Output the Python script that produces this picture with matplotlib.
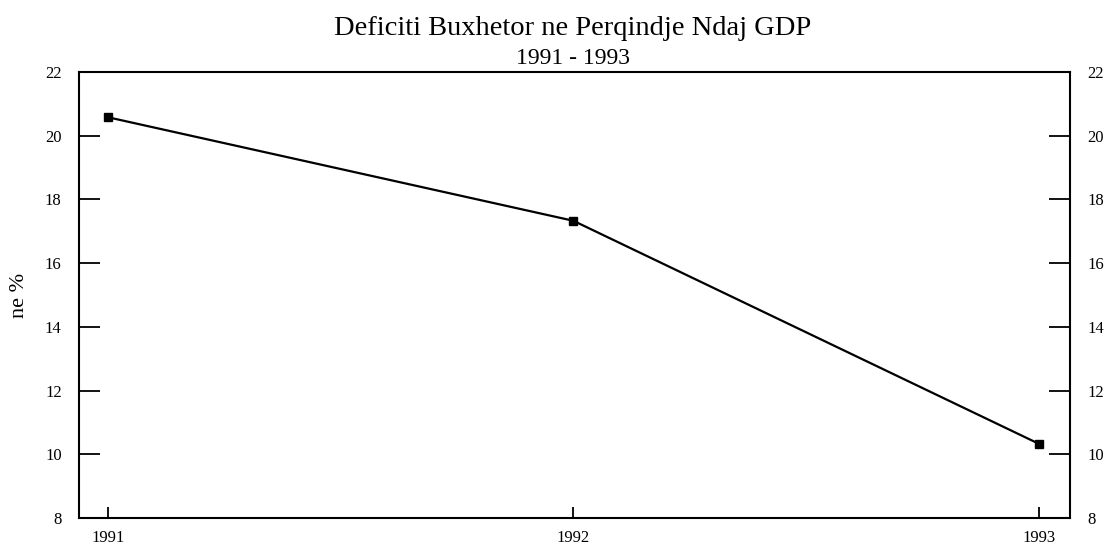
import matplotlib
matplotlib.use("Agg")
import matplotlib.pyplot as plt

years = [1991, 1992, 1993]
deficit = [20.58, 17.33, 10.33]
yticks = [8, 10, 12, 14, 16, 18, 20, 22]

plt.rcParams['font.family'] = ['Liberation Serif', 'DejaVu Serif']

fig = plt.figure(figsize=(11.09, 5.46), dpi=100)
ax = fig.add_axes([79 / 1109, 28 / 546, (1070 - 79) / 1109, (518 - 72) / 546])

ax.plot(years, deficit, color='black', lw=1.6, marker='s', ms=6,
        markerfacecolor='black', markeredgecolor='black')

ax.set_xlim(1990.938, 1993.067)
ax.set_ylim(8, 22)
ax.set_xticks(years)
ax.set_xticklabels([str(y) for y in years])
ax.set_yticks(yticks)

for s in ax.spines.values():
    s.set_linewidth(1.5)

ax.tick_params(axis='y', direction='in', length=15, width=1.3, labelsize=12,
               left=True, right=True, labelleft=True, labelright=True, pad=12.5)
ax.tick_params(axis='x', direction='in', length=8, width=1.3, labelsize=12, pad=9)

ax.set_ylabel('ne %', fontsize=16)
ax.yaxis.set_label_coords((19 - 79) / (1070 - 79), 0.5)
ax.yaxis.label.set_va('center')

# titles centred over the plot area
cx = 573 / 1109
fig.text(cx, 1 - 35 / 546, 'Deficiti Buxhetor ne Perqindje Ndaj GDP',
         ha='center', va='baseline', fontsize=20.5)
fig.text(cx, 1 - 64 / 546, '1991 - 1993', ha='center', va='baseline', fontsize=17)

fig.savefig('out.png', dpi=100)
